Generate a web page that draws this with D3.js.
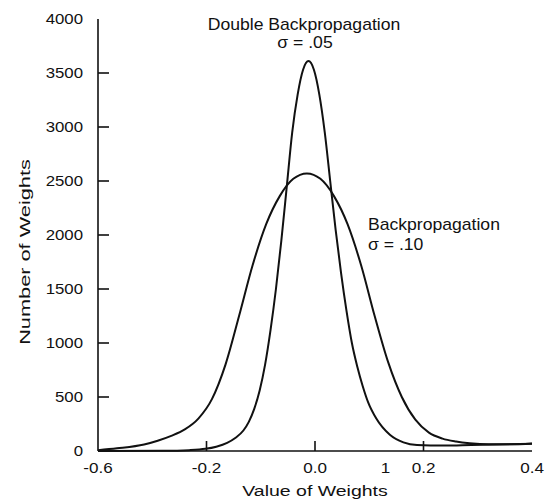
<!DOCTYPE html>
<html>
<head>
<meta charset="utf-8">
<script src="https://cdn.jsdelivr.net/npm/d3@7"></script>
<style>
  body { margin: 0; background: #fff; }
  text { font-family: "Liberation Sans", Arial, Helvetica, sans-serif; fill: #111; }
</style>
</head>
<body>
<svg id="chart" width="547" height="502"></svg>
<script>
// backpropagation, sigma = .10
var backpropX = [-0.4, -0.365, -0.315, -0.29, -0.265, -0.24, -0.215, -0.19, -0.165, -0.14,
  -0.115, -0.09, -0.065, -0.04, -0.015, 0.01, 0.035, 0.06, 0.085, 0.11,
  0.135, 0.16, 0.185, 0.21, 0.235, 0.26, 0.285, 0.32, 0.36, 0.4];
var backpropY = [8, 25, 60, 95, 140, 200, 300, 480, 800, 1250,
  1720, 2100, 2360, 2520, 2570, 2520, 2360, 2100, 1720, 1250,
  820, 500, 290, 170, 115, 88, 72, 62, 62, 70];

// double backpropagation, sigma = .05
var doubleX = [-0.4, -0.28, -0.232, -0.202, -0.182, -0.162, -0.147, -0.132, -0.122, -0.112,
  -0.102, -0.092, -0.082, -0.072, -0.062, -0.052, -0.042, -0.032, -0.022, -0.012,
  -0.002, 0.008, 0.018, 0.028, 0.038, 0.048, 0.058, 0.068, 0.078, 0.088,
  0.098, 0.113, 0.138, 0.163, 0.188, 0.238, 0.288, 0.338, 0.4];
var doubleY = [0, 2, 8, 20, 40, 75, 120, 190, 270, 390,
  560, 800, 1120, 1500, 1950, 2450, 2950, 3300, 3530, 3610,
  3530, 3300, 2950, 2500, 2050, 1650, 1300, 1000, 780, 600,
  450, 300, 150, 80, 55, 50, 55, 60, 68];

var yTicks = [0, 500, 1000, 1500, 2000, 2500, 3000, 3500, 4000];
var xTickMarks = [-0.2, 0, 0.2];
var xLabelValues = [-0.4, -0.2, 0, 0.13, 0.2, 0.4];
var xLabelTexts = ["-0.6", "-0.2", "0.0", "1", "0.2", "0.4"];

var svg = d3.select("#chart");

var x = d3.scaleLinear().domain([-0.4, 0.4]).range([98, 532]);
var y = d3.scaleLinear().domain([0, 4000]).range([451, 19]);

// text in the scan is wider than the font, stretch it sideways
function stretch(sel, px, py, k, rot) {
  sel.attr("transform", "translate(" + px + "," + py + ")" + (rot ? " rotate(" + rot + ")" : "") + " scale(" + k + ",1)");
}

var axes = svg.append("g").attr("stroke", "#111").attr("stroke-width", 1.6).attr("fill", "none");

axes.append("line")
  .attr("x1", x(-0.4)).attr("x2", x(-0.4))
  .attr("y1", y(4000)).attr("y2", y(0));
axes.append("line")
  .attr("x1", x(-0.4)).attr("x2", x(0.4))
  .attr("y1", y(0)).attr("y2", y(0));

axes.selectAll(".ytick")
  .data(yTicks.filter(d => d > 0 && d < 4000))
 .enter().append("line")
  .attr("class", "ytick")
  .attr("x1", x(-0.4)).attr("x2", x(-0.4) + 11)
  .attr("y1", d => y(d)).attr("y2", d => y(d));

axes.selectAll(".xtick")
  .data(xTickMarks)
 .enter().append("line")
  .attr("class", "xtick")
  .attr("x1", d => x(d)).attr("x2", d => x(d))
  .attr("y1", y(0)).attr("y2", y(0) - 10);

svg.selectAll(".ylabel")
  .data(yTicks)
 .enter().append("text")
  .attr("class", "ylabel")
  .attr("text-anchor", "end")
  .attr("dy", "0.35em")
  .style("font-size", "14px")
  .text(d => d)
  .each(function(d) { stretch(d3.select(this), 83, y(d), 1.2); });

svg.selectAll(".xlabel")
  .data(xLabelValues)
 .enter().append("text")
  .attr("class", "xlabel")
  .attr("text-anchor", "middle")
  .style("font-size", "14px")
  .text((d, i) => xLabelTexts[i])
  .each(function(d) { stretch(d3.select(this), x(d), 473, 1.22); });

stretch(svg.append("text")
  .attr("text-anchor", "middle")
  .style("font-size", "15px")
  .text("Value of Weights"), 315, 496, 1.3);

stretch(svg.append("text")
  .attr("text-anchor", "middle")
  .style("font-size", "15px")
  .text("Number of Weights"), 30, 252, 1.45, -90);

// curves
var line = d3.line()
  .x(d => x(d[0]))
  .y(d => y(d[1]))
  .curve(d3.curveMonotoneX);

var curves = [d3.zip(backpropX, backpropY), d3.zip(doubleX, doubleY)];

svg.selectAll(".curve")
  .data(curves)
 .enter().append("path")
  .attr("class", "curve")
  .attr("d", line)
  .attr("fill", "none")
  .attr("stroke", "#111")
  .attr("stroke-width", 2);

// labels
stretch(svg.append("text").attr("text-anchor", "middle").style("font-size", "16px")
  .text("Double Backpropagation"), 304, 30, 1.1);
stretch(svg.append("text").attr("text-anchor", "middle").style("font-size", "16px")
  .text("σ = .05"), 305, 48, 1.1);
stretch(svg.append("text").attr("text-anchor", "start").style("font-size", "16px")
  .text("Backpropagation"), 368, 230, 1.1);
stretch(svg.append("text").attr("text-anchor", "start").style("font-size", "16px")
  .text("σ = .10"), 368, 250, 1.1);
</script>
</body>
</html>
